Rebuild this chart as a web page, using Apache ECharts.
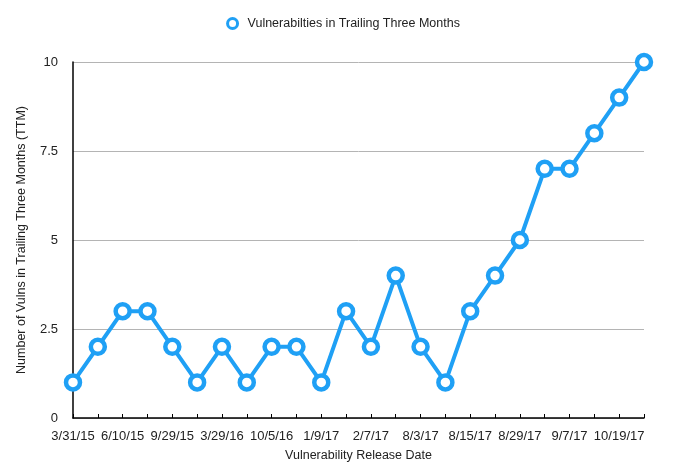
<!DOCTYPE html>
<html>
<head>
<meta charset="utf-8">
<script src="https://cdn.jsdelivr.net/npm/echarts@6/dist/echarts.min.js"></script>
<style>html,body{margin:0;padding:0;background:#fff;}#c{width:686px;height:467px;}</style>
</head>
<body>
<div id="c"></div>
<script>
var categories = ['3/31/15','','6/10/15','','9/29/15','','3/29/16','','10/5/16','','1/9/17','','2/7/17','','8/3/17','','8/15/17','','8/29/17','','9/7/17','','10/19/17',''];
var seriesName = 'Vulnerabilties in Trailing Three Months';
var values = [1,2,3,3,2,1,2,1,2,2,1,3,2,4,2,1,3,4,5,7,7,8,9,10];
var yTicks = [0, 2.5, 5, 7.5, 10];

var font = '"Helvetica Neue", "Liberation Sans", Arial, sans-serif';
var blue = '#1FA0F5';
var chart = echarts.init(document.getElementById('c'), null, {renderer: 'canvas'});
chart.setOption({
  animation: false,
  backgroundColor: '#fff',
  textStyle: {fontFamily: font},
  legend: {
    top: 12, left: 'center',
    itemWidth: 10, itemHeight: 10, itemGap: 10,
    icon: 'circle',
    itemStyle: {color: '#fff', borderColor: blue, borderWidth: 3},
    textStyle: {fontFamily: font, fontSize: 12.5, color: '#222', padding: [0, 0, 0, 5]},
    data: [seriesName]
  },
  grid: {left: 73, right: 42, top: 62, bottom: 49, containLabel: false},
  xAxis: {
    type: 'category',
    data: categories,
    boundaryGap: false,
    name: 'Vulnerability Release Date',
    nameLocation: 'middle',
    nameGap: 31,
    nameTextStyle: {fontFamily: font, fontSize: 12.5, color: '#222'},
    axisLine: {lineStyle: {color: '#000', width: 1.5}},
    axisTick: {show: true, inside: true, length: 4, interval: 0, lineStyle: {color: '#000', width: 1}},
    axisLabel: {interval: 1, margin: 12, fontFamily: font, fontSize: 13, color: '#222'},
    splitLine: {show: false}
  },
  yAxis: {
    type: 'value',
    min: 0, max: 10, interval: 2.5,
    name: 'Number of Vulns in Trailing Three Months (TTM)',
    nameLocation: 'middle',
    nameGap: 45,
    nameTextStyle: {fontFamily: font, fontSize: 12.5, color: '#222'},
    axisLine: {show: true, lineStyle: {color: '#000', width: 1.5}},
    axisTick: {show: false},
    axisLabel: {margin: 15, fontFamily: font, fontSize: 13, color: '#222',
      formatter: function (v) { return yTicks.indexOf(v) >= 0 ? String(v) : ''; }},
    splitLine: {show: true, lineStyle: {color: '#b4b4b4', width: 1}}
  },
  series: [{
    name: seriesName,
    type: 'line',
    data: values,
    symbol: 'circle',
    symbolSize: 14,
    showAllSymbol: true,
    lineStyle: {color: blue, width: 4},
    itemStyle: {color: '#fff', borderColor: blue, borderWidth: 4.5},
    z: 5
  }]
});
</script>
</body>
</html>
